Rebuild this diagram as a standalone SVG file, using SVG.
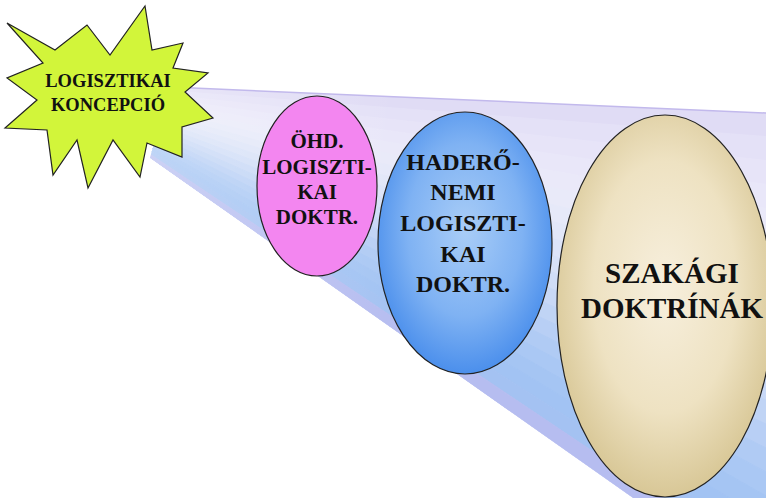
<svg xmlns="http://www.w3.org/2000/svg" width="766" height="498" viewBox="0 0 766 498">
<style>
.node{stroke:#222;stroke-width:1.2}
.w{stroke-width:1}
</style>
<defs>
<clipPath id="beamClip"><polygon points="170,87 766,113 766,498 633,498 150,158"/></clipPath>
<linearGradient id="beamW" gradientUnits="userSpaceOnUse" x1="150" y1="0" x2="400" y2="0">
<stop offset="0" stop-color="#fff" stop-opacity="0.3"/>
<stop offset="1" stop-color="#fff" stop-opacity="0"/>
</linearGradient>
<radialGradient id="blueG" cx="0.5" cy="0.45" r="0.55">
<stop offset="0" stop-color="#a9cdf7"/>
<stop offset="0.6" stop-color="#7fb2f3"/>
<stop offset="1" stop-color="#4b8fec"/>
</radialGradient>
<radialGradient id="tanG" cx="0.5" cy="0.45" r="0.55">
<stop offset="0" stop-color="#f7efdd"/>
<stop offset="0.6" stop-color="#eee2c2"/>
<stop offset="1" stop-color="#d8c796"/>
</radialGradient>
</defs>
<rect width="766" height="498" fill="#fff"/>
<g id="beam">
<g clip-path="url(#beamClip)">
<polygon class="w" points="41,81 1200,131.5 1200,169.8" fill="#e0dcf5" stroke="#e0dcf5"/>
<polygon class="w" points="41,81 1200,169.8 1200,208.1" fill="#e4e1f7" stroke="#e4e1f7"/>
<polygon class="w" points="41,81 1200,208.1 1200,246.4" fill="#e7e4f8" stroke="#e7e4f8"/>
<polygon class="w" points="41,81 1200,246.4 1200,284.7" fill="#e9e7f9" stroke="#e9e7f9"/>
<polygon class="w" points="41,81 1200,284.7 1200,323" fill="#eae9f9" stroke="#eae9f9"/>
<polygon class="w" points="41,81 1200,323 1200,361.3" fill="#e9eaf9" stroke="#e9eaf9"/>
<polygon class="w" points="41,81 1200,361.3 1200,399.6" fill="#e6e9f9" stroke="#e6e9f9"/>
<polygon class="w" points="41,81 1200,399.6 1200,437.9" fill="#e2e7f8" stroke="#e2e7f8"/>
<polygon class="w" points="41,81 1200,437.9 1200,476.2" fill="#dde4f8" stroke="#dde4f8"/>
<polygon class="w" points="41,81 1200,476.2 1200,514.5" fill="#d7e1f7" stroke="#d7e1f7"/>
<polygon class="w" points="41,81 1200,514.5 1200,552.8" fill="#d0ddf7" stroke="#d0ddf7"/>
<polygon class="w" points="41,81 1200,552.8 1200,591.1" fill="#c8d8f6" stroke="#c8d8f6"/>
<polygon class="w" points="41,81 1200,591.1 1200,629.4" fill="#c0d4f5" stroke="#c0d4f5"/>
<polygon class="w" points="41,81 1200,629.4 1200,667.7" fill="#b8cff5" stroke="#b8cff5"/>
<polygon class="w" points="41,81 1200,667.7 1200,706" fill="#b0cbf4" stroke="#b0cbf4"/>
<polygon class="w" points="41,81 1200,706 1200,744.3" fill="#aac8f4" stroke="#aac8f4"/>
<polygon class="w" points="41,81 1200,744.3 1200,782.6" fill="#a5c5f3" stroke="#a5c5f3"/>
<polygon class="w" points="41,81 1200,782.6 1200,820.9" fill="#a2c3f3" stroke="#a2c3f3"/>
<polygon class="w" points="41,81 1200,820.9 1200,859.2" fill="#a4c2f2" stroke="#a4c2f2"/>
<polygon class="w" points="41,81 1200,859.2 1200,897.5" fill="#b6bdf0" stroke="#b6bdf0"/>
<polygon points="170,87 766,113 766,498 633,498 150,158" fill="url(#beamW)"/>
</g>
<line x1="170" y1="87" x2="766" y2="113" stroke="#c2b9ec" stroke-width="1.5"/>
</g>
<g id="logisztikai-koncepcio" text-anchor="middle" fill="#111">
<polygon class="node" fill="#d2f53a" stroke-width="1.5" points="7,23 55,50 87,25 110,55 145,6 152,50 183,43 173,68 208,73 185,92 213,118 182,127 182,157 147,143 140,177 113,140 88,188 77,140 53,175 47,130 5,128 37,100 7,78 43,63"/>
<text x="108" y="87" font-size="18.5" font-weight="bold" font-family="Liberation Serif, serif">LOGISZTIKAI</text>
<text x="108" y="111" font-size="18.5" font-weight="bold" font-family="Liberation Serif, serif">KONCEPCIÓ</text>
</g>
<g id="ohd-doktr" text-anchor="middle" fill="#111">
<ellipse class="node" cx="317" cy="186" rx="60" ry="90" fill="#f386f0"/>
<text x="317" y="148" font-size="21" font-weight="bold" font-family="Liberation Serif, serif">ÖHD.</text>
<text x="317" y="174" font-size="21" font-weight="bold" font-family="Liberation Serif, serif">LOGISZTI-</text>
<text x="317" y="199" font-size="21" font-weight="bold" font-family="Liberation Serif, serif">KAI</text>
<text x="317" y="224" font-size="21" font-weight="bold" font-family="Liberation Serif, serif">DOKTR.</text>
</g>
<g id="haderonemi-doktr" text-anchor="middle" fill="#111">
<ellipse class="node" cx="465" cy="243" rx="87" ry="131" fill="url(#blueG)"/>
<text x="463" y="170" font-size="24" font-weight="bold" font-family="Liberation Serif, serif">HADERŐ-</text>
<text x="463" y="200" font-size="24" font-weight="bold" font-family="Liberation Serif, serif">NEMI</text>
<text x="463" y="231" font-size="24" font-weight="bold" font-family="Liberation Serif, serif">LOGISZTI-</text>
<text x="463" y="262" font-size="24" font-weight="bold" font-family="Liberation Serif, serif">KAI</text>
<text x="463" y="292" font-size="24" font-weight="bold" font-family="Liberation Serif, serif">DOKTR.</text>
</g>
<g id="szakagi-doktrinak" text-anchor="middle" fill="#111">
<ellipse class="node" cx="665" cy="306" rx="108" ry="191" fill="url(#tanG)"/>
<text x="672" y="283" font-size="29" font-weight="bold" font-family="Liberation Serif, serif">SZAKÁGI</text>
<text x="672" y="318" font-size="29" font-weight="bold" font-family="Liberation Serif, serif">DOKTRÍNÁK</text>
</g>
<g id="connectors"/>
</svg>
